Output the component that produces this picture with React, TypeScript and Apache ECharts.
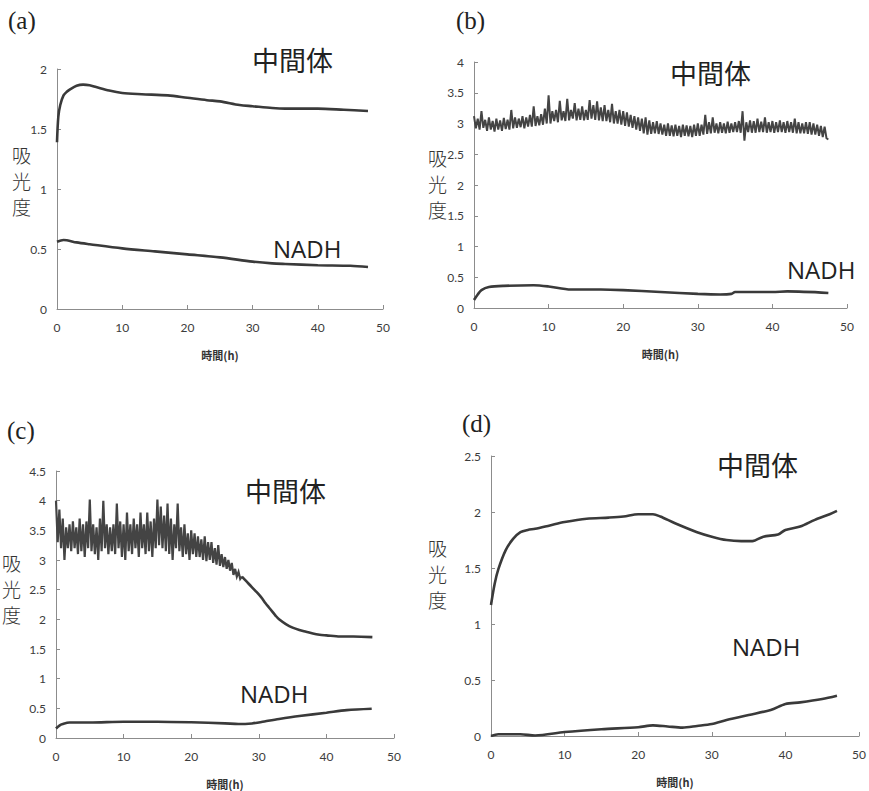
import React, { useEffect, useRef } from "react";
import * as echarts from "echarts";

// ---- tick settings ----
const xTicks = { min: 0, max: 50, interval: 10 };
const yMaxA = 2;
const yMaxB = 4;
const yMaxC = 4.5;
const yMaxD = 2.5;

// ---- panel (a) ----
const aMid: number[][] = [
  [0, 1.39], [0.2, 1.6], [0.5, 1.7], [1, 1.78], [1.5, 1.81], [2, 1.83], [3, 1.86], [4, 1.87],
  [5, 1.865], [6, 1.85], [8, 1.82], [10, 1.8], [13, 1.79], [17, 1.78], [20, 1.76], [23, 1.74],
  [25, 1.73], [28, 1.7], [30, 1.69], [33, 1.675], [35, 1.67], [40, 1.67], [44, 1.66], [47.7, 1.65],
];
const aNadh: number[][] = [
  [0, 0.56], [1, 0.575], [3, 0.555], [5, 0.54], [10, 0.505], [15, 0.48], [20, 0.455], [25, 0.43],
  [30, 0.395], [33, 0.38], [35, 0.375], [40, 0.365], [45, 0.36], [47.7, 0.35],
];

// ---- panel (b) ----
const bMidTimes = [
  0, 0.25, 0.5, 0.75, 1, 1.25, 1.5, 1.75, 2, 2.25, 2.5, 2.75, 3, 3.25, 3.5, 3.75, 4, 4.25, 4.5, 4.75,
  5, 5.25, 5.5, 5.75, 6, 6.25, 6.5, 6.75, 7, 7.25, 7.5, 7.75, 8, 8.25, 8.5, 8.75, 9, 9.25, 9.5, 9.75,
  10, 10.25, 10.5, 10.75, 11, 11.25, 11.5, 11.75, 12, 12.25, 12.5, 12.75, 13, 13.25, 13.5, 13.75, 14, 14.25, 14.5, 14.75,
  15, 15.25, 15.5, 15.75, 16, 16.25, 16.5, 16.75, 17, 17.25, 17.5, 17.75, 18, 18.25, 18.5, 18.75, 19, 19.25, 19.5, 19.75,
  20, 20.25, 20.5, 20.75, 21, 21.25, 21.5, 21.75, 22, 22.25, 22.5, 22.75, 23, 23.25, 23.5, 23.75, 24, 24.25, 24.5, 24.75,
  25, 25.25, 25.5, 25.75, 26, 26.25, 26.5, 26.75, 27, 27.25, 27.5, 27.75, 28, 28.25, 28.5, 28.75, 29, 29.25, 29.5, 29.75,
  30, 30.25, 30.5, 30.75, 31, 31.25, 31.5, 31.75, 32, 32.25, 32.5, 32.75, 33, 33.25, 33.5, 33.75, 34, 34.25, 34.5, 34.75,
  35, 35.25, 35.5, 35.75, 36, 36.25, 36.5, 36.75, 37, 37.25, 37.5, 37.75, 38, 38.25, 38.5, 38.75, 39, 39.25, 39.5, 39.75,
  40, 40.25, 40.5, 40.75, 41, 41.25, 41.5, 41.75, 42, 42.25, 42.5, 42.75, 43, 43.25, 43.5, 43.75, 44, 44.25, 44.5, 44.75,
  45, 45.25, 45.5, 45.75, 46, 46.25, 46.5, 46.75, 47, 47.25, 47.5,
];
const bMidValues = [
  3.12, 2.92, 3.08, 2.9, 3.2, 2.93, 3.06, 2.88, 3.1, 2.9, 3.04, 2.87, 3.08, 2.9, 3.05, 2.88, 3.09, 2.91, 3.06, 2.9,
  3.22, 2.92, 3.1, 2.93, 3.08, 2.94, 3.12, 2.92, 3.1, 2.95, 3.14, 2.95, 3.28, 2.96, 3.12, 2.97, 3.15, 2.98, 3.24, 3.0,
  3.46, 3.0, 3.2, 3.04, 3.22, 3.02, 3.37, 3.05, 3.2, 3.04, 3.4, 3.05, 3.22, 3.08, 3.33, 3.05, 3.24, 3.06, 3.28, 3.05,
  3.22, 3.06, 3.38, 3.08, 3.3, 3.06, 3.36, 3.05, 3.26, 3.04, 3.3, 3.04, 3.22, 3.02, 3.32, 3.0, 3.2, 3.0, 3.22, 2.98,
  3.2, 2.96, 3.18, 2.95, 3.14, 2.93, 3.12, 2.9, 3.1, 2.88, 3.08, 2.84, 3.1, 2.82, 3.05, 2.83, 3.02, 2.84, 3.04, 2.83,
  3.0, 2.82, 2.98, 2.8, 3.0, 2.8, 2.97, 2.79, 2.98, 2.8, 2.96, 2.78, 2.98, 2.8, 2.97, 2.79, 2.96, 2.78, 2.98, 2.8,
  3.0, 2.8, 2.98, 2.82, 3.14, 2.83, 3.02, 2.84, 3.1, 2.85, 3.0, 2.84, 3.02, 2.85, 3.0, 2.84, 3.03, 2.85, 3.0, 2.86,
  3.02, 2.86, 3.04, 2.85, 3.2, 2.72, 3.02, 2.86, 3.05, 2.85, 3.04, 2.85, 3.08, 2.86, 3.03, 2.86, 3.1, 2.85, 3.02, 2.86,
  3.04, 2.85, 3.02, 2.86, 3.05, 2.86, 3.02, 2.85, 3.04, 2.86, 3.02, 2.85, 3.08, 2.84, 3.02, 2.84, 3.0, 2.84, 3.02, 2.83,
  3.02, 2.82, 3.0, 2.82, 2.98, 2.8, 2.96, 2.78, 2.95, 2.76, 2.74,
];
const bNadh: number[][] = [
  [0, 0.13], [0.5, 0.22], [1, 0.29], [2, 0.34], [4, 0.36], [8, 0.37], [10, 0.35], [13, 0.3],
  [17, 0.3], [20, 0.29], [25, 0.26], [30, 0.23], [33, 0.22], [34.5, 0.23], [35, 0.26], [40, 0.26],
  [42, 0.27], [47.5, 0.245],
];

// ---- panel (c) ----
const cMidTimes = [
  0, 0.25, 0.5, 0.75, 1, 1.25, 1.5, 1.75, 2, 2.25, 2.5, 2.75, 3, 3.25, 3.5, 3.75, 4, 4.25, 4.5, 4.75,
  5, 5.25, 5.5, 5.75, 6, 6.25, 6.5, 6.75, 7, 7.25, 7.5, 7.75, 8, 8.25, 8.5, 8.75, 9, 9.25, 9.5, 9.75,
  10, 10.25, 10.5, 10.75, 11, 11.25, 11.5, 11.75, 12, 12.25, 12.5, 12.75, 13, 13.25, 13.5, 13.75, 14, 14.25, 14.5, 14.75,
  15, 15.25, 15.5, 15.75, 16, 16.25, 16.5, 16.75, 17, 17.25, 17.5, 17.75, 18, 18.25, 18.5, 18.75, 19, 19.25, 19.5, 19.75,
  20, 20.25, 20.5, 20.75, 21, 21.25, 21.5, 21.75, 22, 22.25, 22.5, 22.75, 23, 23.25, 23.5, 23.75, 24, 24.25, 24.5, 24.75,
  25, 25.25, 25.5, 25.75, 26, 26.25, 26.5, 26.75, 27, 27.25, 27.5,
];
const cMidValues = [
  4.0, 3.3, 3.85, 3.2, 3.7, 3.0, 3.55, 3.2, 3.6, 3.15, 3.65, 3.2, 3.55, 3.1, 3.7, 3.15, 3.6, 3.05, 3.65, 3.2,
  4.02, 3.15, 3.6, 3.1, 3.55, 3.0, 3.7, 3.15, 4.0, 3.2, 3.6, 3.1, 3.55, 3.15, 3.6, 3.1, 3.95, 3.2, 3.65, 3.05,
  3.6, 3.0, 3.8, 3.15, 3.6, 3.1, 3.7, 3.2, 3.6, 3.05, 3.8, 3.2, 3.6, 3.1, 3.8, 3.15, 3.65, 3.05, 3.7, 3.2,
  4.02, 3.25, 3.9, 3.2, 3.75, 3.15, 3.95, 3.1, 3.7, 3.0, 3.6, 3.2, 3.95, 3.15, 3.55, 3.05, 3.6, 3.1, 3.45, 3.0,
  3.5, 3.1, 3.45, 3.05, 3.4, 3.05, 3.35, 3.0, 3.4, 2.98, 3.3, 3.0, 3.3, 2.95, 3.2, 2.92, 3.25, 2.9, 3.1, 2.88,
  3.05, 2.85, 3.0, 2.82, 2.95, 2.75, 2.85, 2.72, 2.8, 2.68, 2.72,
];
const cMidTail: number[][] = [
  [27.5, 2.72], [28, 2.66], [28.5, 2.6], [29, 2.54], [29.5, 2.48], [30, 2.42], [30.5, 2.35], [31, 2.27],
  [31.5, 2.2], [32, 2.13], [32.5, 2.06], [33, 2.0], [34, 1.92], [35, 1.86], [36, 1.82], [37, 1.79],
  [38, 1.76], [39, 1.74], [40, 1.73], [42, 1.71], [44, 1.71], [46.8, 1.7],
];
const cNadh: number[][] = [
  [0, 0.16], [0.5, 0.21], [1, 0.235], [2, 0.26], [5, 0.26], [10, 0.275], [15, 0.275], [20, 0.265],
  [25, 0.247], [27, 0.236], [29, 0.245], [30, 0.262], [31, 0.282], [33, 0.32], [36, 0.37], [40, 0.426],
  [43, 0.47], [46.7, 0.494],
];

// ---- panel (d) ----
const dMid: number[][] = [
  [0, 1.17], [0.5, 1.36], [1, 1.49], [2, 1.66], [3, 1.76], [4, 1.82], [5, 1.84], [6, 1.85],
  [8, 1.88], [10, 1.91], [13, 1.94], [16, 1.95], [18, 1.96], [20, 1.98], [22, 1.98], [23, 1.96],
  [25, 1.9], [28, 1.82], [30, 1.78], [32, 1.75], [34, 1.74], [35.5, 1.74], [37, 1.78], [39, 1.8],
  [40, 1.84], [42, 1.87], [44, 1.93], [46, 1.98], [47, 2.01],
];
const dNadh: number[][] = [
  [0, 0.0], [1, 0.015], [4, 0.015], [6, 0.005], [10, 0.035], [15, 0.06], [20, 0.078], [22, 0.095],
  [24, 0.085], [26, 0.075], [28, 0.09], [30, 0.107], [32, 0.143], [35, 0.188], [38, 0.232], [40, 0.286],
  [42, 0.3], [45, 0.33], [47, 0.36],
];

// ---- texts ----
const panelLabels = ["(a)", "(b)", "(c)", "(d)"];
const midLabel = "中間体";
const nadhLabel = "NADH";
const yNameChars = ["吸", "光", "度"];
const xName = "時間(h)";

const zip = (t: number[], v: number[]) => t.map((x, i) => [x, v[i]]);

export default function App() {
  const ref = useRef<HTMLDivElement>(null);
  useEffect(() => {
    if (!ref.current) return;
    const chart = echarts.init(ref.current, null, { renderer: "svg" });

    const grids = [
      { left: 57, top: 69, width: 326, height: 240 },
      { left: 474, top: 62, width: 373, height: 246 },
      { left: 56, top: 471, width: 338, height: 267 },
      { left: 491, top: 456, width: 372, height: 280 },
    ];
    const yMaxes = [yMaxA, yMaxB, yMaxC, yMaxD];
    const axisColor = "#8c8c8c";
    const labelStyle = { color: "#3c3c3c", fontSize: 12, fontFamily: "Lato, 'Open Sans', sans-serif" };

    const xAxis = grids.map((_, i) => ({
      type: "value",
      gridIndex: i,
      min: xTicks.min,
      max: xTicks.max,
      interval: xTicks.interval,
      name: xName,
      nameLocation: "middle",
      nameGap: 40,
      nameTextStyle: { color: "#333", fontSize: 11, fontWeight: "bold", fontFamily: "'Noto Sans CJK JP', sans-serif" },
      axisLine: { show: true, lineStyle: { color: axisColor, width: 1 } },
      axisTick: { show: true, inside: true, length: 4, lineStyle: { color: axisColor } },
      axisLabel: { ...labelStyle, margin: 12 },
      splitLine: { show: false },
    }));
    const yAxis = grids.map((_, i) => ({
      type: "value",
      gridIndex: i,
      min: 0,
      max: yMaxes[i],
      interval: 0.5,
      axisLine: { show: true, lineStyle: { color: axisColor, width: 1 } },
      axisTick: { show: true, inside: true, length: 4, lineStyle: { color: axisColor } },
      axisLabel: { ...labelStyle, margin: 10 },
      splitLine: { show: false },
    }));

    const smoothLine = (data: number[][], i: number) => ({
      type: "line",
      xAxisIndex: i,
      yAxisIndex: i,
      data,
      smooth: 0.3,
      showSymbol: false,
      lineStyle: { color: "#3a3a3a", width: 2.6 },
    });
    const noisyLine = (data: number[][], i: number, w: number) => ({
      type: "line",
      xAxisIndex: i,
      yAxisIndex: i,
      data,
      smooth: false,
      showSymbol: false,
      lineStyle: { color: "#444", width: w, join: "miter" },
    });

    const series = [
      smoothLine(aMid, 0),
      smoothLine(aNadh, 0),
      noisyLine(zip(bMidTimes, bMidValues), 1, 2),
      smoothLine(bNadh, 1),
      noisyLine(zip(cMidTimes, cMidValues), 2, 2.2),
      smoothLine(cMidTail, 2),
      smoothLine(cNadh, 2),
      smoothLine(dMid, 3),
      smoothLine(dNadh, 3),
    ];

    const panelPos = [[8, 8], [456, 8], [7, 418], [462, 411]];
    const midPos = [[252, 46], [670, 59], [245, 477], [717, 451]];
    const nadhPos = [[273, 236], [787, 257], [240, 681], [732, 634]];
    const yNamePos = [[12, 143], [428, 146], [2, 551], [428, 536]];

    const graphic: any[] = [];
    for (let i = 0; i < 4; i++) {
      graphic.push({
        type: "text", left: panelPos[i][0], top: panelPos[i][1],
        style: { text: panelLabels[i], fontSize: 25, fontFamily: "'Liberation Serif', serif", fill: "#222" },
      });
      graphic.push({
        type: "text", left: midPos[i][0], top: midPos[i][1],
        style: { text: midLabel, fontSize: 27, fontFamily: "'Noto Sans CJK JP', sans-serif", fill: "#222" },
      });
      graphic.push({
        type: "text", left: nadhPos[i][0], top: nadhPos[i][1],
        style: { text: nadhLabel, fontSize: 24, fontFamily: "'Open Sans', sans-serif", fill: "#222" },
      });
      yNameChars.forEach((ch, k) => {
        graphic.push({
          type: "text", left: yNamePos[i][0], top: yNamePos[i][1] + k * 26,
          style: { text: ch, fontSize: 19, lineHeight: 22, fontFamily: "'Noto Sans CJK JP', sans-serif", fill: "#333", fontWeight: 300 },
        });
      });
    }

    chart.setOption({
      animation: false,
      backgroundColor: "#fff",
      grid: grids,
      xAxis,
      yAxis,
      series,
      graphic,
    });
    return () => chart.dispose();
  }, []);

  return (
    <div
      ref={ref}
      style={{ position: "fixed", left: 0, top: 0, width: 869, height: 791, background: "#fff" }}
    />
  );
}
